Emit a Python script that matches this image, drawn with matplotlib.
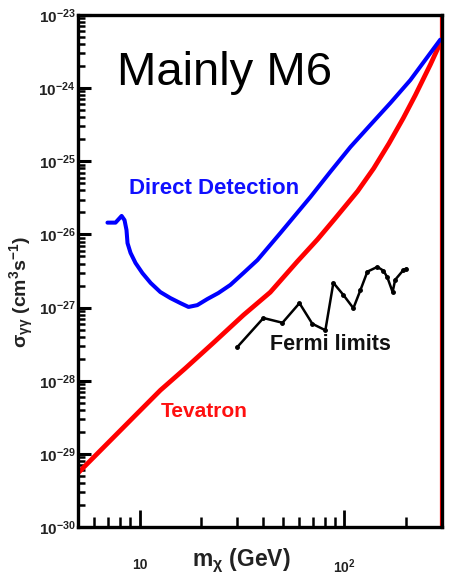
import matplotlib
matplotlib.use("Agg")
import matplotlib.pyplot as plt
import matplotlib.ticker as mticker
import numpy as np

plt.rcParams['font.family'] = ['Liberation Sans', 'DejaVu Sans']
plt.rcParams['mathtext.fontset'] = 'custom'
plt.rcParams['mathtext.rm'] = 'Liberation Sans'
plt.rcParams['mathtext.bf'] = 'Liberation Sans:bold'
plt.rcParams['mathtext.it'] = 'Liberation Sans:italic'
plt.rcParams['mathtext.default'] = 'regular'

# Tevatron bound (red)
tev_m = [5, 9.75, 12.6, 16.7, 22.9, 32.1, 43.4, 59, 74, 90, 116, 139, 165,
         194, 222, 263, 290]
tev_sig = [5.5e-30, 3.6e-29, 7.4e-29, 1.48e-28, 3.3e-28, 7.9e-28, 1.62e-27,
           4.3e-27, 8.6e-27, 1.65e-26, 3.9e-26, 8.0e-26, 1.75e-25, 3.9e-25,
           8.0e-25, 2.1e-24, 3.8e-24]
tev_cut = 296

# Direct detection bound (blue)
dd_m = [6.95, 7.61, 8.15, 8.42, 8.61, 8.71, 9.01, 9.53, 10.3, 11.3, 12.6, 14.1,
        15.8, 17.3, 19.1, 21.4, 24.2, 27.7, 32.1, 37.6, 42.5, 48.7, 68.2, 85.4,
        107, 134, 168, 210, 263, 294]
dd_sig = [1.45e-26, 1.45e-26, 1.79e-26, 1.57e-26, 1.15e-26, 7.6e-27, 5.6e-27,
          4.07e-27, 2.96e-27, 2.17e-27, 1.63e-27, 1.35e-27, 1.15e-27, 1.02e-27,
          1.08e-27, 1.31e-27, 1.58e-27, 2.04e-27, 2.97e-27, 4.47e-27, 6.7e-27,
          1.05e-26, 3.25e-26, 7.2e-26, 1.57e-25, 3.15e-25, 6.3e-25, 1.29e-24,
          3.02e-24, 4.6e-24]

# Fermi limits (black)
fermi_m = [30.0, 40.2, 49.8, 60.3, 69.7, 80.7, 88.3, 98.8, 110.6, 119.7, 129.5,
           144.9, 155, 162, 172, 177, 194, 201]
fermi_sig = [2.9e-28, 7.2e-28, 6.2e-28, 1.15e-27, 6.0e-28, 4.9e-28, 2.18e-27,
             1.49e-27, 9.8e-28, 1.73e-27, 3.1e-27, 3.6e-27, 3.2e-27, 2.6e-27,
             1.63e-27, 2.4e-27, 3.25e-27, 3.4e-27]

y_decades = [1e-30, 1e-29, 1e-28, 1e-27, 1e-26, 1e-25, 1e-24, 1e-23]

fig = plt.figure(figsize=(4.52, 5.84), dpi=100)
ax = fig.add_axes([0.173, 0.0976, 0.805, 0.8767])

ax.plot(tev_m, tev_sig, color='#ff0000', lw=3.4, solid_capstyle='round',
        solid_joinstyle='round')
ax.axvline(tev_cut, color='#ff0000', lw=1.6)
ax.plot(dd_m, dd_sig, color='#0000ff', lw=2.9, solid_capstyle='round',
        solid_joinstyle='round')
ax.plot(fermi_m, fermi_sig, color='black', lw=1.8, marker='o', ms=2.5)

ax.set_xscale('log')
ax.set_yscale('log')
ax.set_xlim(5, 300)
ax.set_ylim(1e-30, 1e-23)

# ticks
ax.xaxis.set_major_locator(mticker.FixedLocator([10, 100]))
ax.xaxis.set_major_formatter(mticker.FixedFormatter(['10', r'$\mathbf{10^2}$']))
ax.xaxis.set_minor_locator(mticker.LogLocator(base=10, subs=np.arange(2, 10)))
ax.xaxis.set_minor_formatter(mticker.NullFormatter())
ax.yaxis.set_major_locator(mticker.FixedLocator(y_decades))
ax.yaxis.set_major_formatter(mticker.FuncFormatter(
    lambda v, p: r'$\mathbf{10^{%d}}$' % round(np.log10(v))))
ax.yaxis.set_minor_locator(mticker.LogLocator(base=10, subs=np.arange(2, 10), numticks=20))
ax.yaxis.set_minor_formatter(mticker.NullFormatter())

ax.tick_params(axis='both', which='both', direction='in', top=False, right=False,
               color='black')
ax.tick_params(axis='x', which='major', length=12, width=2, pad=22, labelsize=10)
ax.tick_params(axis='x', which='minor', length=7, width=1.8)
ax.tick_params(axis='y', which='major', length=9, width=2.2, pad=2, labelsize=11)
ax.tick_params(axis='y', which='minor', length=5, width=1.8)
for lab in ax.get_xticklabels() + ax.get_yticklabels():
    lab.set_fontweight('bold')
    lab.set_color('#222222')

for s in ax.spines.values():
    s.set_linewidth(2.4)

ax.set_xlabel(r'm$_{\chi}$ (GeV)', fontsize=16.5, fontweight='bold', color='#222222')
ax.xaxis.set_label_coords(0.448, -0.066)
ax.xaxis.label.set_va('center')
ax.set_ylabel(r'σ$_{\gamma\gamma}$ (cm$^3$s$^{-1}$)', fontsize=14, fontweight='bold',
              color='#222222')
ax.yaxis.set_label_coords(-0.155, 0.46)
ax.yaxis.label.set_va('center')

ax.text(0.106, 0.863, 'Mainly M6', transform=ax.transAxes, fontsize=34,
        va='baseline', ha='left', color='black')
ax.text(0.139, 0.650, 'Direct Detection', transform=ax.transAxes, fontsize=16,
        fontweight='bold', color='#1010ff', va='baseline', ha='left')
ax.text(0.227, 0.215, 'Tevatron', transform=ax.transAxes, fontsize=15,
        fontweight='bold', color='#ff1010', va='baseline', ha='left')
ax.text(0.526, 0.346, 'Fermi limits', transform=ax.transAxes, fontsize=15.5,
        fontweight='bold', color='#111111', va='baseline', ha='left')

fig.savefig('out.png', dpi=100)
